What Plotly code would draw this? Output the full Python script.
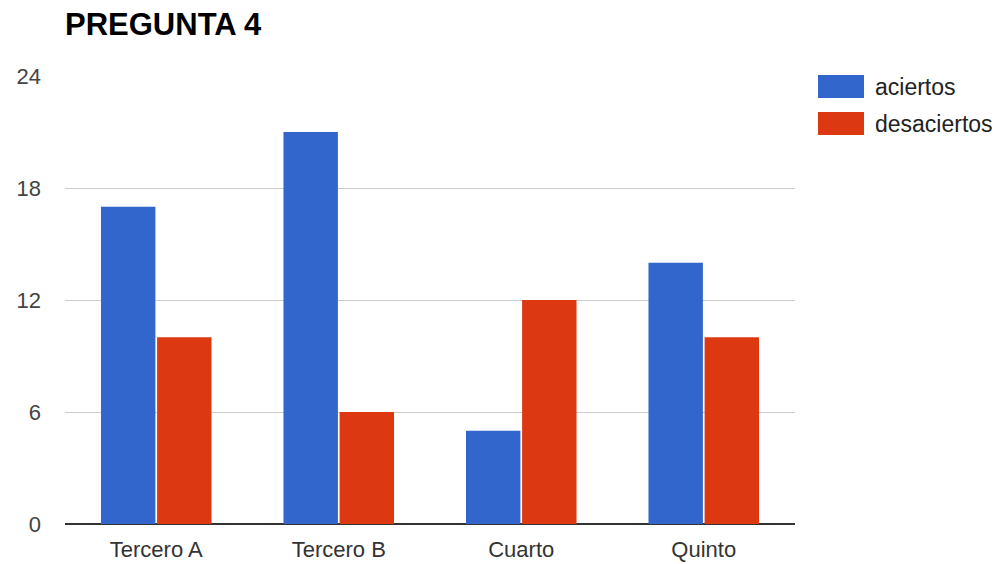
import plotly.graph_objects as go

categories = ["Tercero A", "Tercero B", "Cuarto", "Quinto"]
aciertos = [17, 21, 5, 14]
desaciertos = [10, 6, 12, 10]
series_names = ["aciertos", "desaciertos"]
colors = ["#3366cc", "#dc3912"]
y_ticks = [0, 6, 12, 18, 24]

fig = go.Figure()
for name, vals, col in zip(series_names, [aciertos, desaciertos], colors):
    fig.add_trace(go.Bar(x=categories, y=vals, name=name, marker_color=col,
                         marker_line_width=0, showlegend=False))

W, H = 1005, 564
L, R, T, B = 65, 210, 76, 40
FONT = "Liberation Sans, Arial, sans-serif"
fig.update_layout(
    width=W, height=H,
    margin=dict(l=L, r=R, t=T, b=B),
    paper_bgcolor="white", plot_bgcolor="white",
    barmode="group", bargap=0.385, bargroupgap=0.03,
    font=dict(family=FONT, color="#444444", size=22),
    title=dict(text="<b>PREGUNTA 4</b>", x=L / W, xanchor="left", y=1 - 24 / H, yanchor="middle",
               font=dict(size=31, color="#000000", family=FONT)),
    xaxis=dict(showgrid=False, showline=False, ticks="", tickfont=dict(size=22, color="#333333"),
               ticklabelstandoff=10, automargin=False),
    yaxis=dict(range=[0, 24], tickvals=y_ticks, showgrid=True, gridcolor="#cccccc", gridwidth=1,
               zeroline=True, zerolinecolor="#333333", zerolinewidth=2, showline=False,
               ticks="", tickfont=dict(size=22, color="#444444"), ticklabelstandoff=23,
               automargin=False),
)

# Custom legend
pw = W - L - R
ph = H - T - B
for i, (name, col) in enumerate(zip(series_names, colors)):
    y0 = 75 + i * 37
    fig.add_shape(type="rect", xref="paper", yref="paper",
                  x0=(818 - L) / pw, x1=(864 - L) / pw,
                  y0=1 - (y0 + 23 - T) / ph, y1=1 - (y0 - T) / ph,
                  fillcolor=col, line=dict(width=0))
    fig.add_annotation(xref="paper", yref="paper", x=(873 - L) / pw,
                       y=1 - (y0 + 12 - T) / ph, text=name, showarrow=False,
                       xanchor="left", yanchor="middle",
                       font=dict(size=23, color="#222222"))

fig.write_html("out.html")
